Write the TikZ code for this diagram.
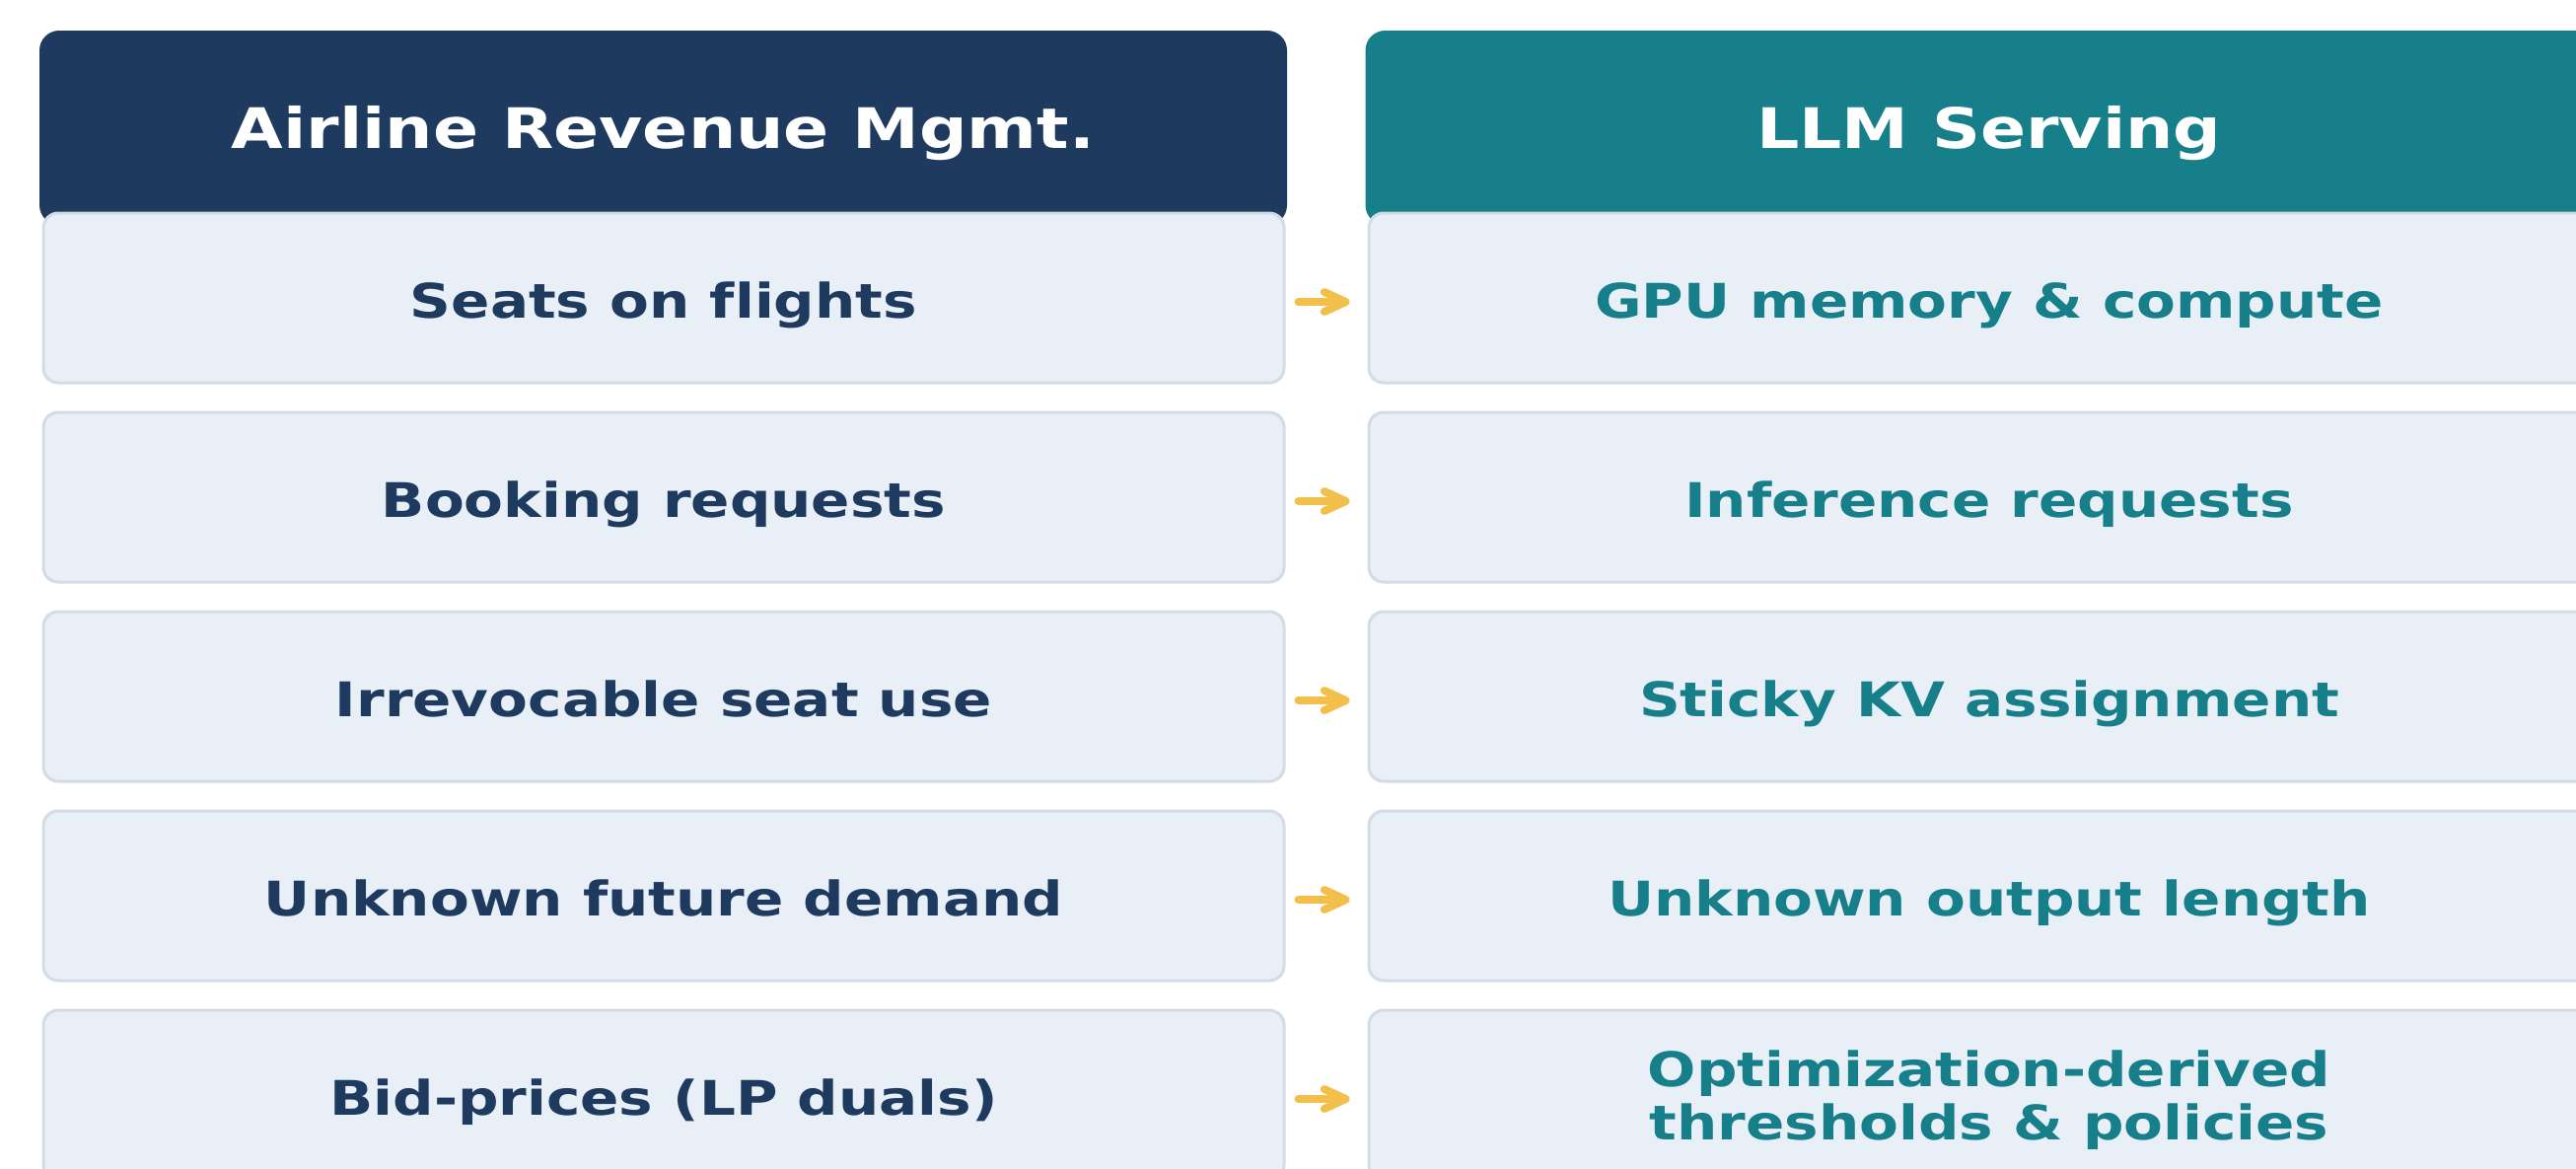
\documentclass[tikz,border=0pt]{standalone}
\usepackage{fontspec}
\newfontfamily\lblfont[FakeStretch=1.2, Ligatures=NoCommon]{DejaVu Sans}
\usetikzlibrary{arrows.meta}
\definecolor{navy}{HTML}{1F3A5F}
\definecolor{teal}{HTML}{167F8A}
\definecolor{rowfill}{HTML}{E8EFF6}
\definecolor{rowline}{HTML}{D3DCE6}
\definecolor{gold}{HTML}{F2BF4B}
\tikzset{
  hdr/.style={rectangle, rounded corners=6pt, minimum width=379.5pt, minimum height=59.1pt, inner sep=0pt,
    text=white, text height=12.4pt, text depth=0pt, font=\lblfont\bfseries\fontsize{17}{20}\selectfont},
  rowbox/.style={rectangle, rounded corners=4.5pt, fill=rowfill, draw=rowline, line width=0.9pt,
    minimum width=377.4pt, minimum height=51.6pt, inner sep=0pt, align=center,
    font=\lblfont\bfseries\fontsize{14.5}{16.2}\selectfont},
  oneline/.style={text height=12pt, text depth=0pt},
  lrow/.style={rowbox, oneline, text=navy},
  rrow/.style={rowbox, oneline, text=teal},
  rrowtwo/.style={rowbox, text=teal},
  arr/.style={draw=gold, line width=2.4pt, line cap=round,
    -{Straight Barb[length=6.5pt, width=6pt, line cap=round, line join=round]},
    shorten <=3.9pt, shorten >=5.4pt}
}
\begin{document}
\begin{tikzpicture}[x=0.3pt, y=-0.3pt]
\useasboundingbox (0,0) rectangle (2612,1184);
\node[hdr, fill=navy] (hl) at (672.5,129.5) {Airline Revenue Mgmt.};
\node[hdr, fill=teal] (hr) at (2017,129.5) {LLM Serving};
\node[lrow] (l1) at (673,302) {Seats on flights};
\node[lrow] (l2) at (673,504) {Booking requests};
\node[lrow] (l3) at (673,706) {Irrevocable seat use};
\node[lrow] (l4) at (673,908) {Unknown future demand};
\node[lrow] (l5) at (673,1110) {Bid-prices (LP duals)};
\node[rrow] (r1) at (2017,302) {GPU memory \& compute};
\node[rrow] (r2) at (2017,504) {Inference requests};
\node[rrow] (r3) at (2017,706) {Sticky KV assignment};
\node[rrow] (r4) at (2017,908) {Unknown output length};
\node[rrowtwo] (r5) at (2017,1110) {\rule{0pt}{14pt}Optimization-derived\\thresholds \& policies};
\foreach \i in {1,...,5}{
  \draw[arr] ([yshift=-1.2pt]l\i.east) -- ([yshift=-1.2pt]r\i.west);
}
\end{tikzpicture}
\end{document}
